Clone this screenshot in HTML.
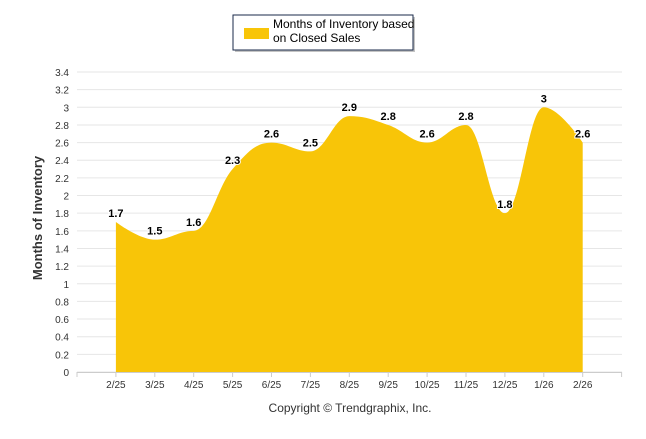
<!DOCTYPE html>
<html><head><meta charset="utf-8"><style>
body{margin:0;background:#fff;font-family:"Liberation Sans",Arial,sans-serif}
svg text{font-family:"Liberation Sans",Arial,sans-serif}
</style></head><body>
<svg id="c" width="646" height="434" xmlns="http://www.w3.org/2000/svg">
<rect x="0" y="0" width="646" height="434" fill="#fff"/>
<g>
<rect x="235" y="17" width="180" height="35" fill="#8a8a8a" opacity="0.5"/>
<rect x="233" y="15" width="180" height="35" fill="#fff" stroke="#1a2a4a" stroke-width="1"/>
<rect x="244" y="28" width="25" height="11" fill="#f8c508"/>
<text x="273" y="28" font-size="12" fill="#000">Months of Inventory based</text>
<text x="273" y="42" font-size="12" fill="#000">on Closed Sales</text>
</g>
<g id="grid"></g>
<g id="area"></g>
<g id="axes"></g>
<text x="42" y="218" font-size="13" font-weight="bold" fill="#333" text-anchor="middle" transform="rotate(-90 42 218)">Months of Inventory</text>
<text x="350" y="412" font-size="12" fill="#333" text-anchor="middle">Copyright © Trendgraphix, Inc.</text>
</svg>
<script>
const categories=["2/25","3/25","4/25","5/25","6/25","7/25","8/25","9/25","10/25","11/25","12/25","1/26","2/26"];
const values=[1.7,1.5,1.6,2.3,2.6,2.5,2.9,2.8,2.6,2.8,1.8,3,2.6];
const yTicks=[0,0.2,0.4,0.6,0.8,1,1.2,1.4,1.6,1.8,2,2.2,2.4,2.6,2.8,3,3.2,3.4];
const NS="http://www.w3.org/2000/svg";
const X0=77,STEP=38.9,Y0=372,YMAX=3.4,YH=300;
function xs(i){return X0+STEP*(i+1);}
function ys(v){return Y0-v/YMAX*YH;}
function mk(t,a,p){const e=document.createElementNS(NS,t);for(const k in a)e.setAttribute(k,a[k]);p.appendChild(e);return e;}
const grid=document.getElementById('grid'),area=document.getElementById('area'),axes=document.getElementById('axes');
yTicks.forEach(v=>{
 const l=mk('line',{x1:X0,x2:622,y1:ys(v),y2:ys(v),stroke:'#e6e6e6','stroke-width':1},grid);
 
 
 const t=mk('text',{x:69,y:ys(v)+4,'font-size':10,fill:'#333','text-anchor':'end'},axes);
 t.textContent=String(v);
 
 
});
mk('line',{x1:X0,x2:622,y1:Y0+0.5,y2:Y0+0.5,stroke:'#ccc'},axes);
for(let i=-1;i<=13;i++){mk('line',{x1:xs(i),x2:xs(i),y1:Y0,y2:Y0+5,stroke:'#ccc'},axes);}
categories.forEach((c,i)=>{
 const t=mk('text',{x:xs(i),y:388,'font-size':10,fill:'#333','text-anchor':'middle'},axes);
 t.textContent=c;
 
 
});
const pts=values.map((v,i)=>[xs(i),ys(v)]);
let d=`M${pts[0][0]},${Y0} L${pts[0][0]},${pts[0][1]}`;
const sm=1.5;
for(let i=0;i<pts.length-1;i++){
 const p0=pts[i],p1=pts[i+1];
 const pm=pts[i-1]||p0,pn=pts[i+2]||p1;
 function ctrl(prev,cur,next,dir){
  const lx=(sm*cur[0]+prev[0])/(sm+1),ly=(sm*cur[1]+prev[1])/(sm+1);
  const rx=(sm*cur[0]+next[0])/(sm+1),ry=(sm*cur[1]+next[1])/(sm+1);
  let cy1=ly,cy2=ry;
  if(rx!==lx){const k=(ry-ly)/(rx-lx);cy1=cur[1]-(cur[0]-lx)*k;cy2=cur[1]+(rx-cur[0])*k;}
  if((cy1>prev[1]&&cy1>cur[1])||(cy1<prev[1]&&cy1<cur[1])){cy1=cur[1];cy2=cur[1];}
  if((cy2>next[1]&&cy2>cur[1])||(cy2<next[1]&&cy2<cur[1])){cy2=cur[1];cy1=cur[1];}
  return dir<0?[lx,cy1]:[rx,cy2];
 }
 const c1=(i===0)?p0:ctrl(pm,p0,p1,1);
 const c2=(i+1===pts.length-1)?p1:ctrl(p0,p1,pn,-1);
 d+=` C${c1[0]},${c1[1]} ${c2[0]},${c2[1]} ${p1[0]},${p1[1]}`;
}
d+=` L${pts[pts.length-1][0]},${Y0} Z`;
const a=mk('path',{d:d,fill:'#f8c508'},area);


values.forEach((v,i)=>{
 const t=mk('text',{x:xs(i),y:ys(v)-5,'font-size':11,'font-weight':'bold',fill:'#000','text-anchor':'middle',stroke:'#fff','stroke-width':2,'paint-order':'stroke'},area);
 t.textContent=String(v);
 
 
});
</script>
</body></html>
